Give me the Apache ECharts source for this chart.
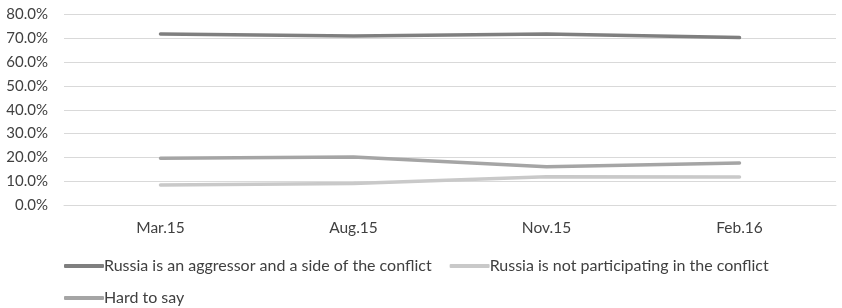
<!DOCTYPE html>
<html>
<head>
<meta charset="utf-8">
<script src="https://cdn.jsdelivr.net/npm/echarts@6/dist/echarts.min.js"></script>
<style>
  html, body { margin: 0; padding: 0; background: #fff; }
  #main { width: 842px; height: 308px; }
</style>
</head>
<body>
<div id="main"></div>
<script>
const categories = ['Mar.15', 'Aug.15', 'Nov.15', 'Feb.16'];
const aggressor = [71.8, 71.0, 71.8, 70.3];
const notParticipating = [8.4, 9.0, 11.9, 11.8];
const hardToSay = [19.6, 20.2, 16.1, 17.6];
const seriesNames = [
  'Russia is an aggressor and a side of the conflict',
  'Russia is not participating in the conflict',
  'Hard to say'
];
const colors = ['#7f7f7f', '#c9c9c9', '#a5a5a5'];

const font = 'Lato, "Open Sans", sans-serif';
const textColor = '#404040';
const myChart = echarts.init(document.getElementById('main'));

// two legend blocks so the rows sit where the original has them
const legendBase = {
  itemWidth: 40,
  itemHeight: 4,
  itemGap: 18,
  icon: 'roundRect',
  textStyle: { fontSize: 16, color: textColor, fontFamily: font, padding: [0, 0, 0, -5] }
};

const option = {
  animation: false,
  textStyle: { fontFamily: font },
  grid: { left: 64, right: 6, top: 14.5, height: 190.5, containLabel: false },
  legend: [
    Object.assign({}, legendBase, { left: 59, top: 253, data: seriesNames.slice(0, 2) }),
    Object.assign({}, legendBase, { left: 59, top: 285, data: seriesNames.slice(2) })
  ],
  xAxis: {
    type: 'category',
    data: categories,
    boundaryGap: true,
    axisLine: { lineStyle: { color: '#d9d9d9', width: 1 } },
    axisTick: { show: false },
    axisLabel: { fontSize: 15.5, color: textColor, margin: 15, fontFamily: font }
  },
  yAxis: {
    type: 'value',
    min: 0,
    max: 80,
    interval: 10,
    axisLine: { show: false },
    axisTick: { show: false },
    splitLine: { lineStyle: { color: '#d9d9d9', width: 1 } },
    axisLabel: {
      fontSize: 15,
      color: textColor,
      margin: 16,
      fontFamily: font,
      formatter: v => v.toFixed(1) + '%'
    }
  },
  series: [
    {
      name: seriesNames[0], type: 'line', data: aggressor,
      symbol: 'none', lineStyle: { color: colors[0], width: 3.5, cap: 'round' },
      itemStyle: { color: colors[0] }
    },
    {
      name: seriesNames[1], type: 'line', data: notParticipating,
      symbol: 'none', lineStyle: { color: colors[1], width: 3.5, cap: 'round' },
      itemStyle: { color: colors[1] }
    },
    {
      name: seriesNames[2], type: 'line', data: hardToSay,
      symbol: 'none', lineStyle: { color: colors[2], width: 3.5, cap: 'round' },
      itemStyle: { color: colors[2] }
    }
  ]
};

myChart.setOption(option);
</script>
</body>
</html>
